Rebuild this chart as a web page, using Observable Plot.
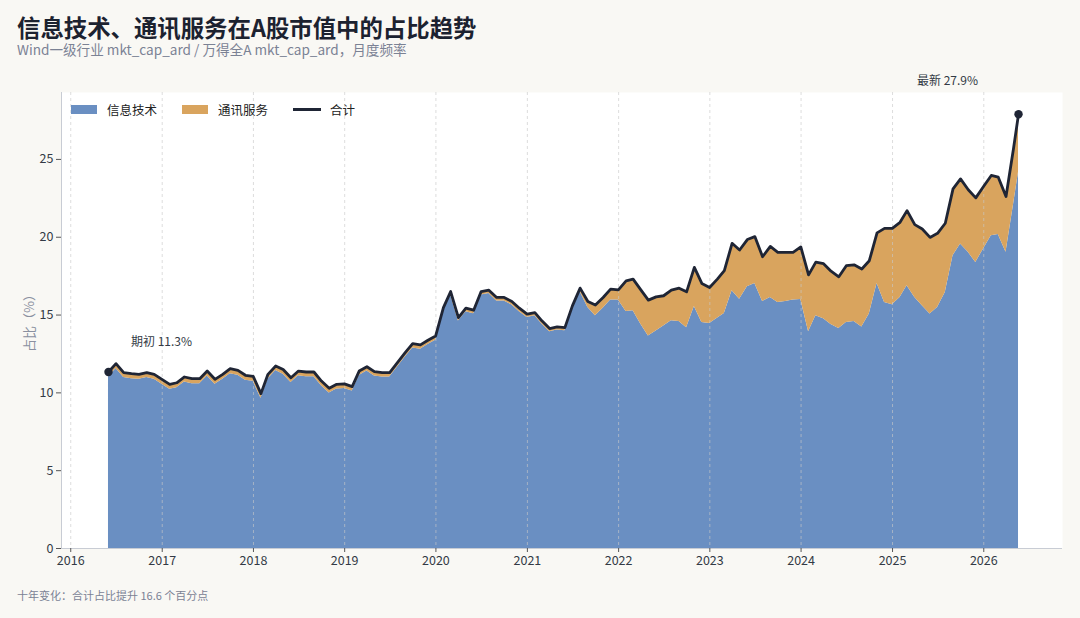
<!DOCTYPE html>
<html><head><meta charset="utf-8">
<script src="https://cdn.jsdelivr.net/npm/d3@7"></script>
<script src="https://cdn.jsdelivr.net/npm/@observablehq/plot@0.6"></script>
<style>
html,body{margin:0;padding:0;background:#f9f8f4;}
#wrap{position:relative;width:1080px;height:618px;overflow:hidden;font-family:"Noto Sans CJK SC","Noto Sans",sans-serif;background:#f9f8f4;}
#title{position:absolute;left:17px;top:16px;font-size:23.4px;line-height:23.4px;font-weight:700;color:#1c2230;white-space:nowrap;}
#subtitle{position:absolute;left:17px;top:42.5px;font-size:13.6px;line-height:13.6px;color:#7b8294;white-space:nowrap;}
#chart{position:absolute;left:0;top:0;}
#ylabel{position:absolute;left:27.5px;top:320px;transform:translate(-50%,-50%) rotate(-90deg);font-size:13px;line-height:13px;color:#8a90a0;white-space:nowrap;}
#legend{position:absolute;left:71px;top:100.5px;font-size:12.5px;line-height:13px;color:#222;white-space:nowrap;}
#legend span{display:inline-block;vertical-align:middle;}
.sw{width:26px;height:9px;margin-right:10px;}
.ln{width:28px;height:3px;margin-right:9px;background:#1f2535;}
.lt{margin-right:25px;}
#footer{position:absolute;left:17px;top:590px;font-size:11px;line-height:11px;color:#7b8294;white-space:nowrap;}
</style>
</head><body>
<div id="wrap">
  <div id="title">信息技术、通讯服务在A股市值中的占比趋势</div>
  <div id="subtitle">Wind一级行业 mkt_cap_ard / 万得全A mkt_cap_ard，月度频率</div>
  <div id="chart"></div>
  <div id="ylabel">占比（%）</div>
  <div id="legend"></div>
  <div id="footer"></div>
</div>
<script>
// ---- data ----
const seriesNames = ["信息技术", "通讯服务", "合计"];
const seriesColors = ["#6a8fc2", "#d9a45e", "#1f2535"];
const startMonth = "2016-05";      // first monthly observation
const lastDate = "2026-05-20";     // latest observation (partial month)
const infoTech = [
  11.02, 11.56, 10.98, 10.91, 10.87, 10.98, 10.87, 10.55, 10.23, 10.33,
  10.70, 10.59, 10.59, 11.08, 10.55, 10.87, 11.23, 11.13, 10.81, 10.74,
  9.65, 10.89, 11.43, 11.20, 10.67, 11.10, 11.04, 11.04, 10.46, 9.99,
  10.25, 10.28, 10.12, 11.12, 11.40, 11.08, 11.02, 11.02, 11.66, 12.30,
  12.89, 12.80, 13.10, 13.38, 15.26, 16.29, 14.62, 15.22, 15.09, 16.29,
  16.38, 15.91, 15.91, 15.65, 15.22, 14.84, 14.96, 14.43, 13.93, 14.04,
  13.99, 15.39, 16.50, 15.48, 14.95, 15.44, 15.96, 15.96, 15.23, 15.27,
  14.41, 13.66, 13.98, 14.30, 14.63, 14.58, 14.19, 15.55, 14.52, 14.45,
  14.80, 15.10, 16.56, 16.02, 16.82, 17.03, 15.87, 16.13, 15.81, 15.87,
  15.96, 16.00, 13.92, 14.95, 14.76, 14.39, 14.13, 14.52, 14.58, 14.24,
  15.06, 17.03, 15.81, 15.66, 16.13, 16.88, 16.13, 15.59, 15.06, 15.48,
  16.45, 18.81, 19.57, 19.03, 18.38, 19.25, 20.10, 20.17, 19.03, 22.08,
  24.18
];
const telecom = [
  0.32, 0.32, 0.32, 0.32, 0.32, 0.32, 0.32, 0.32, 0.32, 0.32,
  0.32, 0.32, 0.32, 0.32, 0.32, 0.32, 0.32, 0.32, 0.32, 0.32,
  0.30, 0.30, 0.30, 0.30, 0.30, 0.30, 0.30, 0.30, 0.30, 0.30,
  0.30, 0.30, 0.28, 0.28, 0.28, 0.28, 0.28, 0.28, 0.28, 0.28,
  0.28, 0.28, 0.28, 0.28, 0.22, 0.22, 0.22, 0.22, 0.22, 0.22,
  0.22, 0.22, 0.22, 0.22, 0.22, 0.22, 0.20, 0.20, 0.20, 0.20,
  0.20, 0.20, 0.23, 0.39, 0.69, 0.69, 0.71, 0.66, 1.97, 2.04,
  2.21, 2.30, 2.19, 1.94, 1.97, 2.15, 2.30, 2.51, 2.51, 2.32,
  2.51, 2.75, 3.05, 3.16, 3.03, 3.01, 2.88, 3.28, 3.22, 3.16,
  3.07, 3.38, 3.66, 3.45, 3.54, 3.43, 3.33, 3.65, 3.65, 3.72,
  3.43, 3.25, 4.76, 4.91, 4.83, 4.83, 4.68, 4.94, 4.93, 4.77,
  4.45, 4.30, 4.18, 4.02, 4.15, 4.01, 3.87, 3.69, 3.59, 3.62,
  3.72
];
const yearTicks = [2016, 2017, 2018, 2019, 2020, 2021, 2022, 2023, 2024, 2025, 2026];
const yTicks = [0, 5, 10, 15, 20, 25];

// ---- build rows ----
const m0 = d3.utcParse("%Y-%m")(startMonth);
const rows = infoTech.map((v, i) => {
  let date = d3.utcDay.offset(d3.utcMonth.offset(m0, i + 1), -1); // month end
  if (i === infoTech.length - 1) date = new Date(lastDate);
  return {date, it: v, tel: telecom[i], total: +(v + telecom[i]).toFixed(2)};
});
const first = rows[0], last = rows[rows.length - 1];
const yearDates = yearTicks.map(y => new Date(Date.UTC(y, 0, 1)));
const xStart = new Date("2015-11-25"), xEnd = new Date("2026-11-12");

const plot = Plot.plot({
  width: 1080, height: 580,
  marginLeft: 61, marginRight: 18, marginTop: 92, marginBottom: 32,
  style: {background: "transparent", fontFamily: "'Noto Sans CJK SC','Noto Sans',sans-serif", fontSize: "12.5px", color: "#333a45", overflow: "visible"},
  x: {type: "utc", domain: [xStart, xEnd]},
  y: {domain: [0, 29.3]},
  marks: [
    Plot.frame({fill: "white", stroke: "none"}),
    Plot.areaY(rows, {x: "date", y1: 0, y2: "it", fill: seriesColors[0], curve: "linear"}),
    Plot.areaY(rows, {x: "date", y1: "it", y2: "total", fill: seriesColors[1], curve: "linear"}),
    Plot.ruleX(yearDates, {stroke: "#c9c9c9", strokeOpacity: 0.7, strokeWidth: 0.9, strokeDasharray: "3,3"}),
    Plot.ruleY([0], {stroke: "#c8ccd4", strokeWidth: 1}),
    Plot.ruleX([xStart], {stroke: "#c8ccd4", strokeWidth: 1}),
    Plot.line(rows, {x: "date", y: "total", stroke: seriesColors[2], strokeWidth: 2.8, strokeLinejoin: "round", strokeLinecap: "round"}),
    Plot.dot([first, last], {x: "date", y: "total", r: 4.2, fill: seriesColors[2], stroke: "none"}),
    Plot.text([first], {x: "date", y: "total", text: d => `期初 ${d.total.toFixed(1)}%`, dx: 53, dy: -30, fill: "#333a45", fontSize: 12}),
    Plot.text([last], {x: "date", y: "total", text: d => `最新 ${d.total.toFixed(1)}%`, dx: -71, dy: -33, fill: "#333a45", fontSize: 12}),
    Plot.axisY({ticks: yTicks, tickSize: 5, tickPadding: 3, label: null, stroke: "#555"}),
    Plot.axisX({ticks: yearDates, tickFormat: "%Y", tickSize: 4, tickPadding: 4, label: null, stroke: "#555"})
  ]
});
document.getElementById("chart").appendChild(plot);

// legend
const lg = document.getElementById("legend");
lg.innerHTML =
  `<span class="sw" style="background:${seriesColors[0]}"></span><span class="lt">${seriesNames[0]}</span>` +
  `<span class="sw" style="background:${seriesColors[1]}"></span><span class="lt">${seriesNames[1]}</span>` +
  `<span class="ln"></span><span>${seriesNames[2]}</span>`;

// footer
const change = (last.total - first.total).toFixed(1);
document.getElementById("footer").textContent = `十年变化：合计占比提升 ${change} 个百分点`;
</script>
</body></html>
